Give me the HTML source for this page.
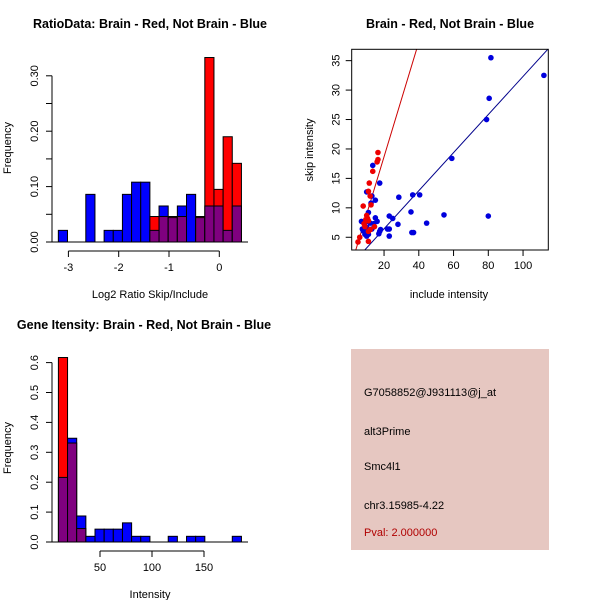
<!DOCTYPE html>
<html><head><meta charset="utf-8"><style>
body{margin:0;background:#fff}
svg{display:block;font-family:"Liberation Sans",Arial,sans-serif}
</style></head><body>
<svg id="s" width="600" height="600">
<rect width="600" height="600" fill="#fff"/>
<g id="p1"></g>
<g id="p2"></g>
<g id="p3"></g>
<g>
<rect x="351" y="349" width="198" height="201" fill="#e6c7c1"/>
<g font-size="11" fill="#000">
<text x="364" y="396">G7058852@J931113@j_at</text>
<text x="364" y="435">alt3Prime</text>
<text x="364" y="470">Smc4l1</text>
<text x="364" y="509">chr3.15985-4.22</text>
<text x="364" y="536" fill="#b00000">Pval: 2.000000</text>
</g></g>
</svg>
<script>
// ---- data ----
const ratioBreakStart=-3.2, ratioBinWidth=0.182;
const ratioRed=[0,0,0,0,0,0,0,0,0,0,0.046,0.046,0.046,0.046,0,0.046,0.333,0.095,0.19,0.142];
const ratioBlue=[0.021,0,0,0.086,0,0.021,0.021,0.086,0.108,0.108,0.021,0.065,0.044,0.065,0.086,0.044,0.065,0.065,0.021,0.065];
const ratioYTicks=[0,0.05,0.1,0.15,0.2,0.25,0.3];
const ratioYLabels=["0.00","","0.10","","0.20","","0.30"];
const ratioXTicks=[-3,-2,-1,0];

const intBreakStart=10, intBinWidth=8.8;
const intRed=[0.617,0.331,0.045,0,0,0,0,0,0,0,0,0,0,0,0,0,0,0,0,0];
const intBlue=[0.216,0.347,0.087,0.019,0.043,0.043,0.043,0.064,0.019,0.019,0,0,0.019,0,0.019,0.019,0,0,0,0.019];
const intYTicks=[0,0.1,0.2,0.3,0.4,0.5,0.6];
const intYLabels=["0.0","0.1","0.2","0.3","0.4","0.5","0.6"];
const intXTicks=[50,100,150];

const blueX=[81.5,112,80.5,79,59,13.5,17.5,28.5,36.5,40.5,35.5,54.5,80,44.5,28,36,37,23,25,22,23,23,18,17,17.5,15,16,15,13,12.5,10,11,9,7,7.5,9,10,10,11,11,12,13,14,10,8];
const blueY=[35.5,32.5,28.6,25,18.4,17.2,14.2,11.8,12.2,12.2,9.3,8.8,8.6,7.4,7.2,5.8,5.8,8.6,8.2,6.4,6.4,5.2,6.3,5.6,6,8.3,7.7,11.3,12,10.8,12.7,9.2,7.5,7.7,6.4,5.5,5.2,6.7,5.5,7.7,7.4,6.4,7.3,5.9,6.1];
const redX=[16.5,16.5,16,13.5,11.5,11,12,12.5,8,10,10.5,9.5,11,8.5,9,14.5,6,5,11,12,11];
const redY=[19.4,18.2,17.8,16.2,14.2,12.8,12,10.5,10.3,8.7,8.2,8,7.8,7.3,6.8,6.8,5,4.2,4.3,6.3,6];
const redFit=[-0.8,0.974], blueFit=[-0.04,0.3236];
const scXTicks=[20,40,60,80,100], scYTicks=[5,10,15,20,25,30,35];

const NS="http://www.w3.org/2000/svg";
function mk(p,t,a,txt){const e=document.createElementNS(NS,t);for(const k in a)e.setAttribute(k,a[k]);if(txt!==undefined)e.textContent=txt;p.appendChild(e);return e;}

function hist(g,o){
  const sx=v=>o.x0px+(v-o.x0)*o.kx, sy=v=>o.y0px-v*o.ky;
  const n=o.red.length;
  for(let i=0;i<n;i++){
    const a=o.start+i*o.w,b=a+o.w;
    const x=sx(a),wd=sx(b)-sx(a);
    const r=o.red[i],bl=o.blue[i],m=Math.min(r,bl),mx=Math.max(r,bl);
    if(mx>0){
      const e=mk(g,'rect',{x:x,y:sy(mx),width:wd,height:sy(0)-sy(mx),fill:r>bl?'#ff0000':'#0000ff',stroke:'#000','stroke-width':1});
      
      
    }
    if(m>0){
      const e=mk(g,'rect',{x:x,y:sy(m),width:wd,height:sy(0)-sy(m),fill:'#7f007f',stroke:'#000','stroke-width':1});
      
      
    }
  }
  mk(g,'line',{x1:52,x2:248,y1:o.y0px,y2:o.y0px,stroke:'#000'});
  const yt=o.yTicks;
  mk(g,'line',{x1:52,x2:52,y1:sy(yt[0]),y2:sy(yt[yt.length-1]),stroke:'#000'});
  yt.forEach((v,i)=>{mk(g,'line',{x1:46,x2:52,y1:sy(v),y2:sy(v),stroke:'#000'});
    const lab=o.yLabels[i];if(lab){const t=mk(g,'text',{x:0,y:0,'font-size':11,'text-anchor':'middle',transform:`translate(38,${sy(v)}) rotate(-90)`},lab);
    }});
  const xt=o.xTicks,ay=o.y0px+9;
  mk(g,'line',{x1:sx(xt[0]),x2:sx(xt[xt.length-1]),y1:ay,y2:ay,stroke:'#000'});
  xt.forEach(v=>{mk(g,'line',{x1:sx(v),x2:sx(v),y1:ay,y2:ay+6,stroke:'#000'});
    const t=mk(g,'text',{x:sx(v),y:ay+20,'font-size':11,'text-anchor':'middle'},String(v));
    });
  const ti=mk(g,'text',{x:o.titleX,y:o.titleY,'font-size':12.5,'font-weight':'bold','text-anchor':'middle'},o.title);
  
  const xl=mk(g,'text',{x:150,y:o.xlabY,'font-size':11,'text-anchor':'middle'},o.xlab);
  
  const yl=mk(g,'text',{x:0,y:0,'font-size':11,'text-anchor':'middle',transform:`translate(11,${o.ylabY}) rotate(-90)`},'Frequency');
  
}
hist(document.getElementById('p1'),{red:ratioRed,blue:ratioBlue,start:ratioBreakStart,w:ratioBinWidth,x0:0,x0px:219.3,kx:50.3,y0px:242,ky:554,
  yTicks:ratioYTicks,yLabels:ratioYLabels,xTicks:ratioXTicks,title:'RatioData: Brain - Red, Not Brain - Blue',titleX:150,titleY:28,xlab:'Log2 Ratio Skip/Include',xlabY:298,ylabY:148});
hist(document.getElementById('p3'),{red:intRed,blue:intBlue,start:intBreakStart,w:intBinWidth,x0:0,x0px:48,kx:1.04,y0px:542,ky:299,
  yTicks:intYTicks,yLabels:intYLabels,xTicks:intXTicks,title:'Gene Itensity: Brain - Red, Not Brain - Blue',titleX:144,titleY:329,xlab:'Intensity',xlabY:598,ylabY:448});

(function(){
  const g=document.getElementById('p2');
  const L=351.7,R=548.3,T=49.3,B=250;
  const sx=v=>349.3+v*1.7375, sy=v=>266.7-v*5.887;
  const cp=mk(g,'clipPath',{id:'cp'});mk(cp,'rect',{x:L,y:T,width:R-L,height:B-T});
  const xmin=(L-349.3)/1.7375,xmax=(R-349.3)/1.7375;
  [[redFit,'#cc0000'],[blueFit,'#00008b']].forEach(([f,c],i)=>{
    const e=mk(g,'line',{x1:sx(xmin),y1:sy(f[0]+f[1]*xmin),x2:sx(xmax),y2:sy(f[0]+f[1]*xmax),stroke:c,'stroke-width':1,'clip-path':'url(#cp)'});
    
  });
  blueX.forEach((x,i)=>{const e=mk(g,'circle',{cx:sx(x),cy:sy(blueY[i]),r:2.8,fill:'#0000dd'});
    });
  redX.forEach((x,i)=>{const e=mk(g,'circle',{cx:sx(x),cy:sy(redY[i]),r:2.8,fill:'#ee0000'});
    });
  mk(g,'rect',{x:L,y:T,width:R-L,height:B-T,fill:'none',stroke:'#000'});
  scXTicks.forEach(v=>{mk(g,'line',{x1:sx(v),x2:sx(v),y1:B,y2:B+6,stroke:'#000'});
    const t=mk(g,'text',{x:sx(v),y:B+19,'font-size':11,'text-anchor':'middle'},String(v));
    });
  scYTicks.forEach(v=>{mk(g,'line',{x1:L-6,x2:L,y1:sy(v),y2:sy(v),stroke:'#000'});
    const t=mk(g,'text',{x:0,y:0,'font-size':11,'text-anchor':'middle',transform:`translate(${L-12},${sy(v)}) rotate(-90)`},String(v));
    });
  const ti=mk(g,'text',{x:450,y:28,'font-size':12.5,'font-weight':'bold','text-anchor':'middle'},'Brain - Red, Not Brain - Blue');
  
  const xl=mk(g,'text',{x:449,y:298,'font-size':11,'text-anchor':'middle'},'include intensity');
  
  const yl=mk(g,'text',{x:0,y:0,'font-size':11,'text-anchor':'middle',transform:'translate(313,150) rotate(-90)'},'skip intensity');
  
})();
</script>
</body></html>
